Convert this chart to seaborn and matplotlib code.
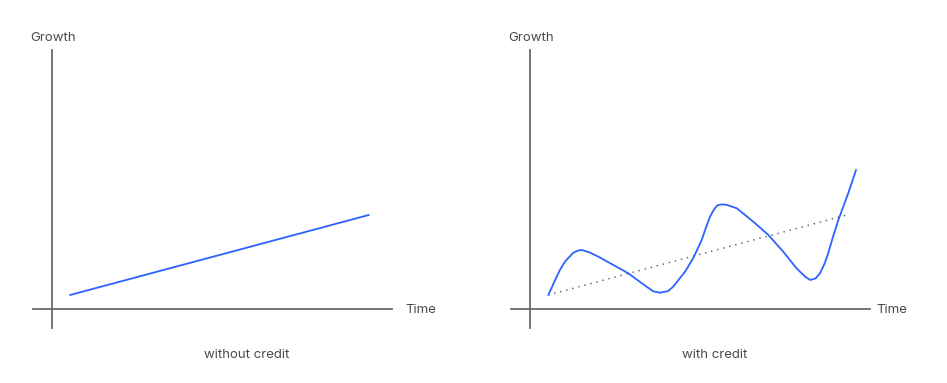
import numpy as np
import pandas as pd
import seaborn as sns
import matplotlib.pyplot as plt

# ------------------------------------------------------------------------------------------------ #
# data (arbitrary units, origin where the axes cross)
trend_time = [0.53, 9.32]
trend_growth = [0.54, 3.63]

credit_time = [0.54, 0.74, 0.88, 1.03, 1.27, 1.40, 1.52, 1.74, 2.01, 2.45, 2.89, 3.43, 3.63,
               3.82, 4.06, 4.21, 4.56, 4.80, 5.05, 5.16, 5.29, 5.41, 5.51, 5.64, 5.79, 6.08,
               6.57, 7.01, 7.45, 7.84, 8.10, 8.24, 8.40, 8.53, 8.66, 8.77, 8.91, 9.07, 9.36,
               9.59]
credit_growth = [0.54, 1.12, 1.51, 1.83, 2.17, 2.25, 2.28, 2.19, 2.02, 1.70, 1.38, 0.86, 0.68,
                 0.63, 0.69, 0.86, 1.44, 1.96, 2.66, 3.09, 3.55, 3.84, 4.00, 4.04, 4.02, 3.89,
                 3.37, 2.86, 2.21, 1.57, 1.24, 1.12, 1.18, 1.38, 1.74, 2.15, 2.78, 3.44, 4.47,
                 5.37]

panel_titles = ["without credit", "with credit"]
# ------------------------------------------------------------------------------------------------ #

W, H = 947, 383
BLUE = "#2c62ff"
AXIS = "#6b6b6b"
TEXT = "#4a4a4a"

sns.set_theme(style="white")
plt.rcParams["font.family"] = ["Inter", "DejaVu Sans"]

fig = plt.figure(figsize=(W / 100, H / 100), dpi=100)


def make_axes(x0, x1, y0, y1):
    """Axes box given in pixels (top-left origin)."""
    ax = fig.add_axes([x0 / W, 1 - y1 / H, (x1 - x0) / W, (y1 - y0) / H])
    ax.set_xlim(-19 / 34, 340 / 34)
    ax.set_ylim(-19 / 25.9, 259 / 25.9)
    for side in ["top", "right"]:
        ax.spines[side].set_visible(False)
    for side in ["left", "bottom"]:
        ax.spines[side].set_position(("data", 0))
        ax.spines[side].set_color(AXIS)
        ax.spines[side].set_linewidth(1.3)
    ax.set_xticks([])
    ax.set_yticks([])
    ax.patch.set_alpha(0)
    return ax


left = make_axes(33, 392, 50, 328)
right = make_axes(511, 870, 50, 328)

trend = pd.DataFrame({"time": trend_time, "growth": trend_growth})
credit = pd.DataFrame({"time": credit_time, "growth": credit_growth})

sns.lineplot(data=trend, x="time", y="growth", ax=left, color=BLUE, linewidth=1.3,
             sort=False)
sns.lineplot(data=trend, x="time", y="growth", ax=right, color="#555555", linewidth=1.0,
             linestyle=(0, (1, 3.5)), sort=False)
sns.lineplot(data=credit, x="time", y="growth", ax=right, color=BLUE, linewidth=1.3,
             sort=False)
for ax in (left, right):
    ax.set_xlabel("")
    ax.set_ylabel("")


def ftext(px, py, s, ha="left"):
    fig.text(px / W, 1 - py / H, s, ha=ha, va="center", fontsize=9.5, color=TEXT)


ftext(30, 38, "Growth")
ftext(508, 38, "Growth")
ftext(405, 310, "Time")
ftext(876, 310, "Time")
ftext(247, 355, panel_titles[0], ha="center")
ftext(715, 355, panel_titles[1], ha="center")

fig.savefig("out.png", dpi=100)
